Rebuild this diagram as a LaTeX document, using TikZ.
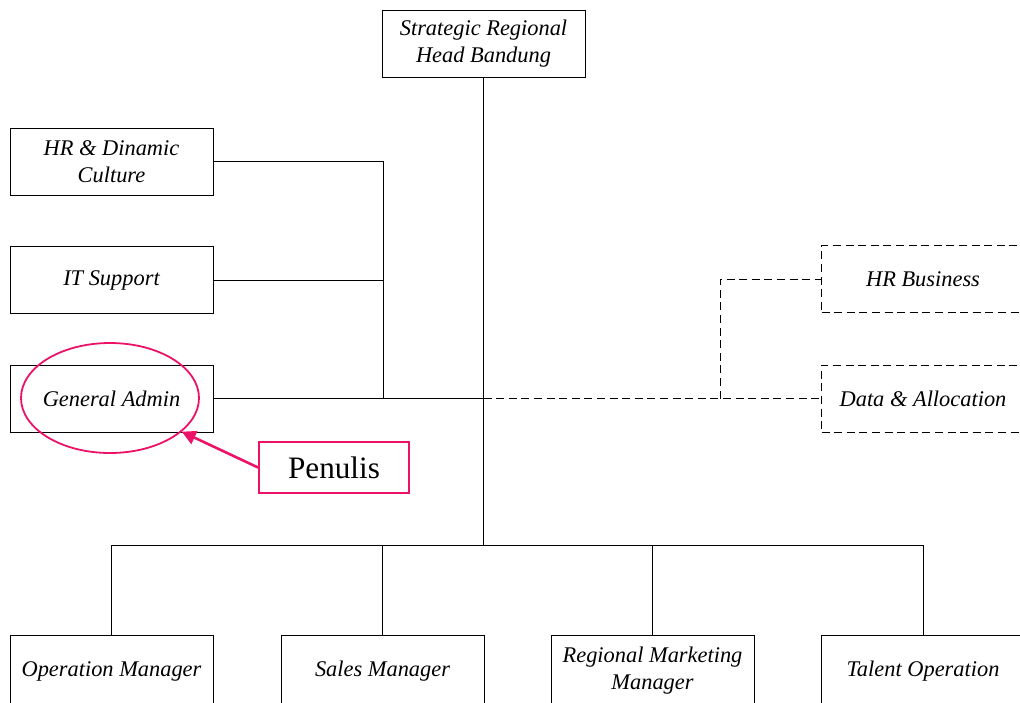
\documentclass[tikz,border=0pt]{standalone}
\usepackage{fontspec}
\setmainfont{Liberation Serif}
\usetikzlibrary{arrows.meta, shapes.geometric}
\definecolor{pinkred}{RGB}{236,18,104}

\begin{document}
\begin{tikzpicture}[x=0.5pt, y=-0.5pt, >={Triangle[length=7pt, width=7pt]},
    box/.style={draw, line width=0.5pt, minimum width=101.5pt, minimum height=33.5pt,
        inner sep=0pt, align=center, font=\fontsize{11.2}{13.5}\selectfont\itshape},
    dbox/.style={box, dash pattern=on 4pt off 2.3pt},
    line/.style={line width=0.5pt},
    dline/.style={line, dash pattern=on 4pt off 2.3pt}]
    \useasboundingbox (0,0) rectangle (1020,702);
    \clip (0,0) rectangle (1020,702);

    % 节点
    \node[box] (kepala) at (483.5,43.5) {Strategic Regional\\Head Bandung};
    \node[box] (hr) at (111.5,161.5) {HR \& Dinamic\\Culture};
    \node[box] (it) at (111.5,280) {IT Support};
    \node[box] (ga) at (111.5,398.5) {General Admin};
    \node[dbox] (hrb) at (923,279) {HR Business};
    \node[dbox] (data) at (923,398.5) {Data \& Allocation};
    \node[box, minimum height=36pt] (om) at (111.5,671) {Operation Manager};
    \node[box, minimum height=36pt] (sm) at (382.5,671) {Sales Manager};
    \node[box, minimum height=36pt] (rmm) at (652.5,671) {Regional Marketing\\Manager};
    \node[box, minimum height=36pt] (to) at (923,671) {Talent Operation};

    % 连线
    \coordinate (pusat) at (483.5,398.5);
    \coordinate (bawah) at (483.5,545);
    \coordinate (kiri) at (383,398.5);
    \coordinate (belok) at (720,398.5);
    \draw[line] (kepala) -- (bawah);
    \draw[line] (om.north) |- (bawah) -| (to.north);
    \draw[line] (sm.north) -- (sm.north |- bawah);
    \draw[line] (rmm.north) -- (rmm.north |- bawah);
    \draw[line] (hr.east) -| (kiri);
    \draw[line] (it.east) -- (it.east -| kiri);
    \draw[line] (ga.east) -- (pusat);
    \draw[dline] (pusat) -- (data.west);
    \draw[dline] (belok) |- (hrb.west);

    % 标注
    \node[ellipse, draw=pinkred, line width=0.9pt, minimum width=89pt, minimum height=55pt,
        inner sep=0pt] (lingkar) at (110,398) {};
    \node[draw=pinkred, line width=0.9pt, minimum width=75pt, minimum height=25.5pt,
        inner sep=0pt, font=\fontsize{15.6}{18}\selectfont] (penulis) at (334,467.5) {Penulis};
    \draw[->, pinkred, line width=1.3pt] (penulis.west) -- (lingkar);
\end{tikzpicture}
\end{document}
